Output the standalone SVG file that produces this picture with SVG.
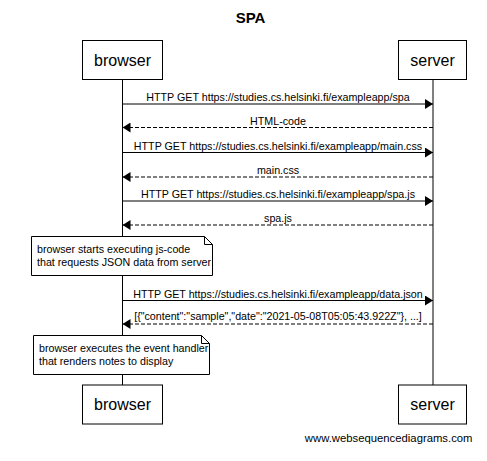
<svg xmlns="http://www.w3.org/2000/svg" width="487" height="461" viewBox="0 0 487 461">
<defs>
<style>
text{font-family:"Liberation Sans",Arial,sans-serif;fill:#000}
.title{font-size:15px;font-weight:bold;text-anchor:middle}
.actor rect{fill:#fff;stroke:#000;stroke-width:1}
.actor text{font-size:16px;text-anchor:middle}
.life{stroke:#000;stroke-width:1}
.msg{stroke:#000;stroke-width:1;fill:none}
.ret{stroke:#000;stroke-width:1;fill:none;stroke-dasharray:4,2}
.lbl{font-size:10.7px;text-anchor:middle}
.note path{fill:#fff;stroke:#000;stroke-width:1}
.note text{font-size:10.7px}
.wm{font-size:11.3px;text-anchor:end}
</style>
<marker id="ah" markerWidth="8" markerHeight="10" refX="8" refY="5" orient="auto" markerUnits="userSpaceOnUse">
<path d="M0,0 L8,5 L0,10 Z" fill="#000"/>
</marker>
</defs>
<rect width="487" height="461" fill="#fff"/>
<text class="title" x="250.5" y="22.5">SPA</text>

<g id="lifelines">
<line class="life" x1="122.5" y1="80" x2="122.5" y2="385"/>
<line class="life" x1="433" y1="80" x2="433" y2="385"/>
</g>

<g id="browser-top" class="actor">
<rect x="82.5" y="40.5" width="80" height="39"/>
<text x="122.5" y="66">browser</text>
</g>
<g id="server-top" class="actor">
<rect x="398.5" y="40.5" width="68" height="39"/>
<text x="432.5" y="66">server</text>
</g>

<g id="connectors">
<line class="msg" x1="122.5" y1="104" x2="433" y2="104" marker-end="url(#ah)"/>
<text class="lbl" x="278" y="101">HTTP GET https://studies.cs.helsinki.fi/exampleapp/spa</text>
<line class="ret" x1="433" y1="127.5" x2="122.5" y2="127.5" marker-end="url(#ah)"/>
<text class="lbl" x="278" y="124.5">HTML-code</text>
<line class="msg" x1="122.5" y1="152.5" x2="433" y2="152.5" marker-end="url(#ah)"/>
<text class="lbl" x="278" y="149.5">HTTP GET https://studies.cs.helsinki.fi/exampleapp/main.css</text>
<line class="ret" x1="433" y1="177" x2="122.5" y2="177" marker-end="url(#ah)"/>
<text class="lbl" x="278" y="174">main.css</text>
<line class="msg" x1="122.5" y1="201" x2="433" y2="201" marker-end="url(#ah)"/>
<text class="lbl" x="278" y="198">HTTP GET https://studies.cs.helsinki.fi/exampleapp/spa.js</text>
<line class="ret" x1="433" y1="225" x2="122.5" y2="225" marker-end="url(#ah)"/>
<text class="lbl" x="278" y="222">spa.js</text>
<line class="msg" x1="122.5" y1="300.5" x2="433" y2="300.5" marker-end="url(#ah)"/>
<text class="lbl" x="278" y="297.5">HTTP GET https://studies.cs.helsinki.fi/exampleapp/data.json</text>
<line class="ret" x1="433" y1="324" x2="122.5" y2="324" marker-end="url(#ah)"/>
<text class="lbl" x="278" y="320">[{"content":"sample","date":"2021-05-08T05:05:43.922Z"}, ...]</text>
</g>

<g id="note1" class="note">
<path d="M31.5,236.5 H204.5 L212.5,244.5 V275.5 H31.5 Z M204.5,236.5 V244.5 H212.5"/>
<text x="37" y="252.5">browser starts executing js-code</text>
<text x="37" y="265.5">that requests JSON data from server</text>
</g>
<g id="note2" class="note">
<path d="M33.5,335.5 H201.5 L209.5,343.5 V374.5 H33.5 Z M201.5,335.5 V343.5 H209.5"/>
<text x="39" y="351.5">browser executes the event handler</text>
<text x="39" y="364.5">that renders notes to display</text>
</g>

<g id="browser-bottom" class="actor">
<rect x="82.5" y="385" width="80" height="39"/>
<text x="122.5" y="410">browser</text>
</g>
<g id="server-bottom" class="actor">
<rect x="398.5" y="385" width="68" height="39"/>
<text x="432.5" y="410">server</text>
</g>

<text class="wm" x="472.5" y="442">www.websequencediagrams.com</text>
</svg>
